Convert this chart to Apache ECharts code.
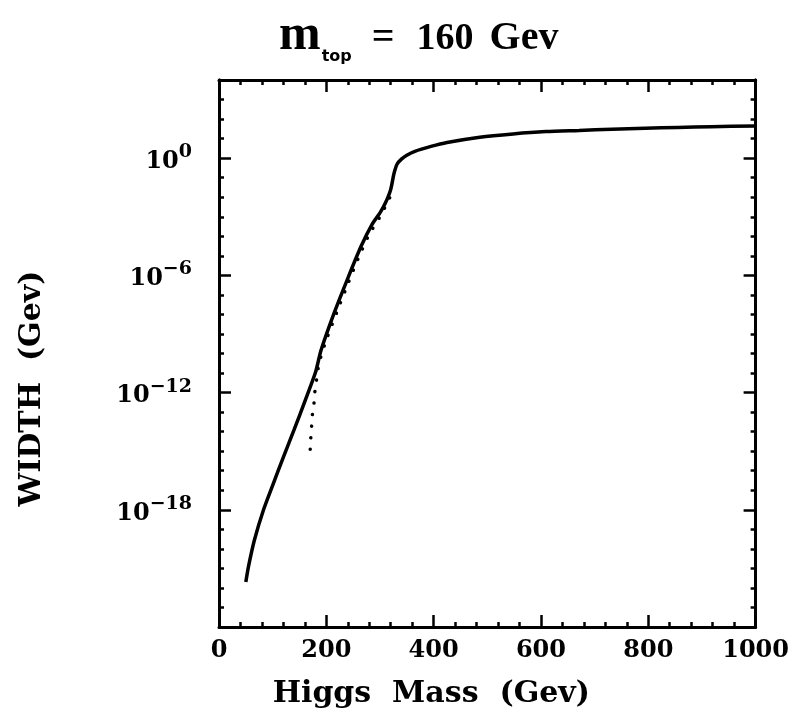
<!DOCTYPE html>
<html>
<head>
<meta charset="utf-8">
<title>Higgs width, m_top = 160 Gev</title>
<script src="https://cdn.jsdelivr.net/npm/echarts@6.0.0/dist/echarts.min.js"></script>
<style>
	html, body { margin: 0; padding: 0; background: #fff; }
	#chart { width: 792px; height: 715px; }
</style>
</head>
<body>
<div id="chart"></div>
<script>
// Higgs mass (Gev) and log10 of the width (Gev)
const solidMass = [50, 55, 66, 83, 100, 120, 140, 160, 180, 190, 215, 240, 265, 285, 300, 310, 320, 326, 332, 340, 350, 365, 395, 425, 486, 548, 609, 671, 732, 794, 855, 917, 1000];
const solidLogWidth = [-21.7, -20.9, -19.55, -18.0, -16.75, -15.3, -13.9, -12.45, -10.95, -9.85, -7.9, -6.15, -4.5, -3.4, -2.8, -2.3, -1.6, -0.8, -0.3, -0.05, 0.15, 0.35, 0.6, 0.8, 1.07, 1.24, 1.36, 1.42, 1.48, 1.53, 1.57, 1.61, 1.65];

const dottedMass = [170, 171, 172.5, 174, 177, 178.5, 181.5, 184.5, 189, 200, 220, 240, 260, 280, 300, 315, 322];
const dottedLogWidth = [-14.9, -14.35, -13.75, -13.15, -12.55, -12.0, -11.4, -10.8, -10.25, -9.3, -7.85, -6.45, -5.1, -3.9, -3.0, -2.2, -1.8];

// axis ranges (y in decades)
const xMin = 0, xMax = 1000, xStep = 200;
const yMin = -24, yMax = 4, yStep = 6;

const FONT = 'DejaVu Serif';

const pairs = (xs, ys) => xs.map((x, i) => [x, ys[i]]);

// 10 with a superscript exponent
const expLabel = (v) => {
	if (v % yStep !== 0 || v <= yMin || v > 0) return '';
	const e = v === 0 ? '0' : '\u2212' + (-v);
	return '{b|10}{s|' + e + '}';
};

const tickStyle = { color: '#000', width: 2.5 };

const makeXAxis = (position, showLabel) => ({
	type: 'value',
	position: position,
	min: xMin,
	max: xMax,
	interval: xStep,
	axisLine: { show: true, onZero: false, lineStyle: { color: '#000', width: 3 } },
	axisTick: { show: true, inside: true, length: 12, lineStyle: tickStyle },
	minorTick: { show: true, splitNumber: 5, length: 5, lineStyle: tickStyle },
	splitLine: { show: false },
	axisLabel: {
		show: showLabel,
		margin: 12,
		color: '#000',
		fontFamily: FONT,
		fontWeight: 'bold',
		fontSize: 24,
		formatter: (v) => String(v), // no thousands separator
	},
});

const makeYAxis = (position, step, tickLen, showLabel) => ({
	type: 'value',
	position: position,
	min: yMin,
	max: yMax,
	interval: step,
	axisLine: { show: true, onZero: false, lineStyle: { color: '#000', width: 3 } },
	axisTick: { show: true, inside: true, length: tickLen, lineStyle: tickStyle },
	splitLine: { show: false },
	axisLabel: {
		show: showLabel,
		margin: 27,
		color: '#000',
		formatter: expLabel,
		rich: {
			b: { fontFamily: FONT, fontWeight: 'bold', fontSize: 24, verticalAlign: 'bottom', color: '#000' },
			s: { fontFamily: FONT, fontWeight: 'bold', fontSize: 19, verticalAlign: 'bottom', padding: [0, 0, 12, 0], color: '#000' },
		},
	},
});

const chart = echarts.init(document.getElementById('chart'), null, { renderer: 'canvas' });

const bottomX = makeXAxis('bottom', true);
bottomX.name = 'Higgs  Mass  (Gev)';
bottomX.nameLocation = 'middle';
bottomX.nameGap = 52;
bottomX.nameTextStyle = { fontFamily: FONT, fontWeight: 'bold', fontSize: 30, color: '#000', padding: [0, 112, 0, 0] };

const leftY = makeYAxis('left', yStep, 12, true);
leftY.name = 'WIDTH  (Gev)';
leftY.nameLocation = 'middle';
leftY.nameGap = 172;
leftY.nameTextStyle = { fontFamily: FONT, fontWeight: 'bold', fontSize: 30, color: '#000', padding: [0, 70, 0, 0] };

const titleFont = 'Liberation Serif';

const option = {
	animation: false,
	backgroundColor: '#fff',
	title: {
		text: '{m|m}{sub|top}{eq|=}{num|160}{unit|Gev}',
		left: 274,
		top: 6,
		textStyle: {
			rich: {
				m: { fontFamily: titleFont, fontWeight: 'bold', fontSize: 50, color: '#000', verticalAlign: 'bottom', padding: [0, 0, 4, 0] },
				sub: { fontFamily: 'DejaVu Sans', fontWeight: 'bold', fontSize: 16, color: '#000', verticalAlign: 'bottom', padding: [0, 0, 0, 1] },
				eq: { fontFamily: titleFont, fontWeight: 'bold', fontSize: 40, color: '#000', verticalAlign: 'bottom', padding: [0, 0, 6, 20] },
				num: { fontFamily: titleFont, fontWeight: 'bold', fontSize: 38, color: '#000', verticalAlign: 'bottom', padding: [0, 0, 7, 22] },
				unit: { fontFamily: titleFont, fontWeight: 'bold', fontSize: 40, color: '#000', verticalAlign: 'bottom', padding: [0, 0, 6, 16] },
			},
		},
	},
	grid: {
		left: 219,
		right: 30,
		top: 80,
		bottom: 88,
		containLabel: false,
	},
	xAxis: [bottomX, makeXAxis('top', false)],
	yAxis: [
		leftY,
		makeYAxis('left', 1, 5, false),
		makeYAxis('right', yStep, 12, false),
		makeYAxis('right', 1, 5, false),
	],
	series: [
		{
			type: 'line',
			xAxisIndex: 0,
			yAxisIndex: 0,
			data: pairs(solidMass, solidLogWidth),
			showSymbol: false,
			smooth: 0.25,
			lineStyle: { color: '#000', width: 3.5 },
		},
		{
			type: 'line',
			xAxisIndex: 0,
			yAxisIndex: 0,
			data: pairs(dottedMass, dottedLogWidth),
			showSymbol: false,
			smooth: 0.25,
			lineStyle: { color: '#000', width: 3.5, type: [0.1, 11.5], cap: 'round' },
		},
	],
};

chart.setOption(option);
</script>
</body>
</html>
